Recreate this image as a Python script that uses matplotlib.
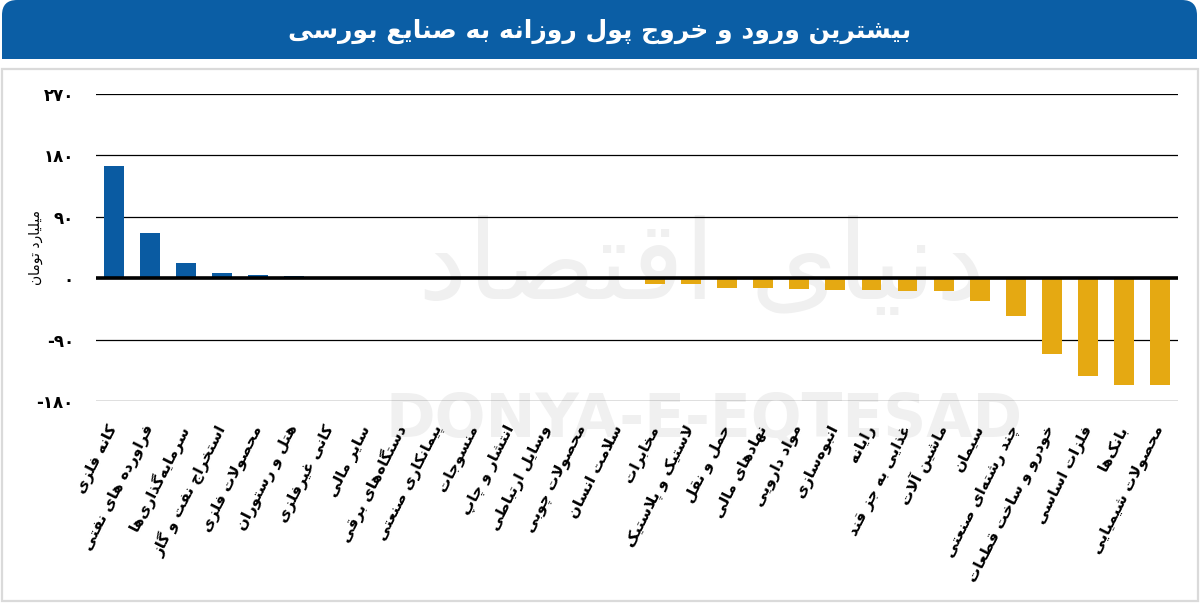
import matplotlib
matplotlib.use('Agg')
import matplotlib.pyplot as plt
from matplotlib.patches import FancyBboxPatch, Rectangle
from matplotlib.ticker import FixedLocator, FuncFormatter

# -- Data: daily money in/out flow per industry (billion toman) --
categories = [
    'کانه فلزی', 'فراورده های نفتی', 'سرمایه‌گذاری‌ها', 'استخراج نفت و گاز',
    'محصولات فلزی', 'هتل و رستوران', 'کانی غیرفلزی', 'سایر مالی',
    'دستگاه‌های برقی', 'پیمانکاری صنعتی', 'منسوجات', 'انتشار و چاپ',
    'وسایل ارتباطی', 'محصولات چوبی', 'سلامت انسان', 'مخابرات',
    'لاستیک و پلاستیک', 'حمل و نقل', 'نهادهای مالی', 'مواد دارویی',
    'انبوه‌سازی', 'رایانه', 'غذایی به جز قند', 'ماشین آلات', 'سیمان',
    'چند رشته‌ای صنعتی', 'خودرو و ساخت قطعات', 'فلزات اساسی', 'بانک‌ها',
    'محصولات شیمیایی',
]
values = [165, 66, 23, 7, 4.5, 3, 2.5, 2.5, 0, 0, 0, 0, 0, 0, 0,
          -8, -9, -14, -14, -16, -17, -17, -18, -19, -33, -55, -111,
          -143, -157, -157]
yticks = [-180, -90, 0, 90, 180, 270]

TITLE = 'بیشترین ورود و خروج پول روزانه به صنایع بورسی'
YLABEL = 'میلیارد تومان'

# -- Styling --
HEADER_BLUE = '#0B5EA5'
BAR_BLUE = '#0A5BA2'
BAR_GOLD = '#E5A912'
FRAME_GRAY = '#DADADA'
WATERMARK = '#F0F0F0'

# -- minimal Persian shaping (matplotlib does no joining / RTL) --
# (isolated, final, initial, medial); right-joining letters have no initial/medial
FORMS = {
    'ا': ('\uFE8D', '\uFE8E', None, None), 'آ': ('\uFE81', '\uFE82', None, None),
    'ب': ('\uFE8F', '\uFE90', '\uFE91', '\uFE92'), 'پ': ('\uFB56', '\uFB57', '\uFB58', '\uFB59'),
    'ت': ('\uFE95', '\uFE96', '\uFE97', '\uFE98'), 'ث': ('\uFE99', '\uFE9A', '\uFE9B', '\uFE9C'),
    'ج': ('\uFE9D', '\uFE9E', '\uFE9F', '\uFEA0'), 'چ': ('\uFB7A', '\uFB7B', '\uFB7C', '\uFB7D'),
    'ح': ('\uFEA1', '\uFEA2', '\uFEA3', '\uFEA4'), 'خ': ('\uFEA5', '\uFEA6', '\uFEA7', '\uFEA8'),
    'د': ('\uFEA9', '\uFEAA', None, None), 'ذ': ('\uFEAB', '\uFEAC', None, None),
    'ر': ('\uFEAD', '\uFEAE', None, None), 'ز': ('\uFEAF', '\uFEB0', None, None),
    'ژ': ('\uFB8A', '\uFB8B', None, None),
    'س': ('\uFEB1', '\uFEB2', '\uFEB3', '\uFEB4'), 'ش': ('\uFEB5', '\uFEB6', '\uFEB7', '\uFEB8'),
    'ص': ('\uFEB9', '\uFEBA', '\uFEBB', '\uFEBC'), 'ض': ('\uFEBD', '\uFEBE', '\uFEBF', '\uFEC0'),
    'ط': ('\uFEC1', '\uFEC2', '\uFEC3', '\uFEC4'), 'ظ': ('\uFEC5', '\uFEC6', '\uFEC7', '\uFEC8'),
    'ع': ('\uFEC9', '\uFECA', '\uFECB', '\uFECC'), 'غ': ('\uFECD', '\uFECE', '\uFECF', '\uFED0'),
    'ف': ('\uFED1', '\uFED2', '\uFED3', '\uFED4'), 'ق': ('\uFED5', '\uFED6', '\uFED7', '\uFED8'),
    'ک': ('\uFB8E', '\uFB8F', '\uFB90', '\uFB91'), 'گ': ('\uFB92', '\uFB93', '\uFB94', '\uFB95'),
    'ل': ('\uFEDD', '\uFEDE', '\uFEDF', '\uFEE0'), 'م': ('\uFEE1', '\uFEE2', '\uFEE3', '\uFEE4'),
    'ن': ('\uFEE5', '\uFEE6', '\uFEE7', '\uFEE8'), 'و': ('\uFEED', '\uFEEE', None, None),
    'ه': ('\uFEE9', '\uFEEA', '\uFEEB', '\uFEEC'), 'ی': ('\uFBFC', '\uFBFD', '\uFBFE', '\uFBFF'),
    'ئ': ('\uFE89', '\uFE8A', '\uFE8B', '\uFE8C'),
}
LAM_ALEF = {'ا': ('\uFEFB', '\uFEFC'), 'آ': ('\uFEF5', '\uFEF6')}


def dual(c):
    return c in FORMS and FORMS[c][2] is not None


def fa(text):
    out = []
    i = 0
    n = len(text)
    while i < n:
        c = text[i]
        prev = text[i - 1] if i > 0 else ''
        nxt = text[i + 1] if i + 1 < n else ''
        if c not in FORMS:
            if c != '\u200c':
                out.append(c)
            i += 1
            continue
        join_prev = dual(prev)
        if c == 'ل' and nxt in LAM_ALEF:
            out.append(LAM_ALEF[nxt][1 if join_prev else 0])
            i += 2
            continue
        join_next = dual(c) and nxt in FORMS
        iso, fin, ini, med = FORMS[c]
        if join_prev and join_next:
            out.append(med)
        elif join_prev:
            out.append(fin)
        elif join_next:
            out.append(ini)
        else:
            out.append(iso)
        i += 1
    return ''.join(out)[::-1]


def fa_digits(v, pos=None):
    s = str(int(v))
    return s.translate(str.maketrans('0123456789', '۰۱۲۳۴۵۶۷۸۹'))


plt.rcParams['font.family'] = ['DejaVu Sans']

fig = plt.figure(figsize=(12, 6.03), dpi=100)
fig.patch.set_facecolor('white')

# header bar with rounded top corners
clip = Rectangle((0, 5.44), 12, 1, transform=fig.dpi_scale_trans)
header = FancyBboxPatch((0.02, 5.2), 11.95, 0.83,
                        boxstyle='round,pad=0,rounding_size=0.15',
                        transform=fig.dpi_scale_trans, facecolor=HEADER_BLUE,
                        edgecolor='none')
header.set_clip_path(clip)
fig.patches.append(header)
fig.text(0.5, 0.948, fa(TITLE), color='white', fontsize=18, fontweight='bold',
         ha='center', va='center')

# light frame around the chart body
frame = Rectangle((0.015, 0.02), 11.965, 5.32, transform=fig.dpi_scale_trans,
                  facecolor='none', edgecolor=FRAME_GRAY, linewidth=1.6)
fig.patches.append(frame)

ax = fig.add_axes([0.08, 0.335, 0.9017, 0.509])
ax.set_facecolor('none')

# watermark (drawn inside the axes, below bars and grid)
ax.text(0.585, 0.555, fa('دنیای اقتصاد'), color=WATERMARK, fontsize=80,
        ha='center', va='center', zorder=0, transform=fig.transFigure)
ax.text(0.587, 0.302, 'DONYA-E-EQTESAD', color=WATERMARK, fontsize=43,
        fontweight='bold', ha='center', va='center', zorder=0,
        transform=fig.transFigure, clip_on=False)

x = list(range(len(categories)))
colors = [BAR_BLUE if v > 0 else BAR_GOLD for v in values]
ax.bar(x, values, width=0.55, color=colors, zorder=3)

ax.set_xlim(-0.5, len(categories) - 0.5)
ax.set_ylim(-180, 270)
ax.yaxis.set_major_locator(FixedLocator(yticks))
ax.yaxis.set_major_formatter(FuncFormatter(fa_digits))
ax.grid(axis='y', color='black', linewidth=0.9, zorder=1)
ax.axhline(0, color='black', linewidth=2.6, zorder=4)

for spine in ax.spines.values():
    spine.set_visible(False)

ax.tick_params(axis='y', length=0, pad=16, labelsize=12)
for lab in ax.get_yticklabels():
    lab.set_fontweight('bold')

ax.set_xticks(x)
ax.set_xticklabels([fa(c) for c in categories], fontsize=11, fontweight='bold')
ax.tick_params(axis='x', length=0, pad=18)
for lab in ax.get_xticklabels():
    lab.set_rotation(63)
    lab.set_rotation_mode('anchor')
    lab.set_ha('right')
    lab.set_va('center')

fig.text(0.03, 0.59, fa(YLABEL), rotation=90, fontsize=10, ha='center',
         va='center')

fig.savefig('out.png', dpi=100, facecolor='white')
plt.close()
